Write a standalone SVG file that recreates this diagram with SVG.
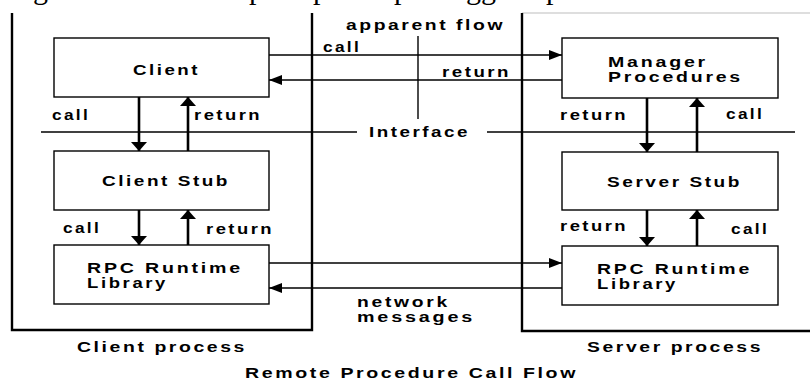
<svg xmlns="http://www.w3.org/2000/svg" width="810" height="381" viewBox="0 0 810 381">
<defs>
<style>
.t{font-family:"Liberation Sans",Arial,sans-serif;font-weight:bold;font-size:15px;fill:#000;letter-spacing:2px}
.t2{font-size:14px}
.frag{font-family:"Liberation Serif","Times New Roman",serif;font-size:30px;fill:#000}
.box{fill:#fff;stroke:#000;stroke-width:1.4}
.frame{fill:none;stroke:#000;stroke-width:2.4}
.thin{fill:none;stroke:#000;stroke-width:1.4}
.thick{fill:none;stroke:#000;stroke-width:2.6}
</style>
<marker id="ah" markerUnits="userSpaceOnUse" markerWidth="14" markerHeight="11" refX="13" refY="5" orient="auto">
<path d="M0,0 L13,5 L0,10 z" fill="#000"/>
</marker>
<marker id="av" markerUnits="userSpaceOnUse" markerWidth="10" markerHeight="17" refX="9" refY="8" orient="auto">
<path d="M0,0 L9,8 L0,16 z" fill="#000"/>
</marker>
</defs>
<rect width="810" height="381" fill="#fff"/>
<g id="page-fragment">
<text class="frag" x="33" y="-1.5">g</text>
<text class="frag" x="249" y="-1.5">p</text>
<text class="frag" x="313" y="-1.5">p</text>
<text class="frag" x="394" y="-1.5">p</text>
<text class="frag" x="466" y="-1.5">gg</text>
<text class="frag" x="546" y="-1.5">p</text>
</g>
<g id="client-process">
<path class="frame" d="M12,13 V330 H312 V13"/>
<text class="t" x="77" y="352" textLength="170" lengthAdjust="spacingAndGlyphs">Client process</text>
</g>
<g id="server-process">
<line x1="522" y1="13" x2="810" y2="13" stroke="#bdbdbd" stroke-width="1.2"/>
<path class="frame" d="M522,13 V331 H810"/>
<text class="t" x="587" y="352" textLength="176" lengthAdjust="spacingAndGlyphs">Server process</text>
</g>
<g id="connectors">
<line class="thin" x1="41" y1="132" x2="357" y2="132"/>
<line class="thin" x1="487" y1="132" x2="795" y2="132"/>
<line class="thin" x1="418" y1="36" x2="418" y2="119"/>
<line class="thin" x1="269" y1="55" x2="562" y2="55" marker-end="url(#ah)"/>
<line class="thin" x1="562" y1="80" x2="269" y2="80" marker-end="url(#ah)"/>
<line class="thin" x1="269" y1="263" x2="562" y2="263" marker-end="url(#ah)"/>
<line class="thin" x1="562" y1="288" x2="269" y2="288" marker-end="url(#ah)"/>
<line class="thick" x1="139" y1="97" x2="139" y2="151" marker-end="url(#av)"/>
<line class="thick" x1="188" y1="151" x2="188" y2="97" marker-end="url(#av)"/>
<line class="thick" x1="139" y1="210" x2="139" y2="245" marker-end="url(#av)"/>
<line class="thick" x1="188" y1="245" x2="188" y2="210" marker-end="url(#av)"/>
<line class="thick" x1="647" y1="98" x2="647" y2="152" marker-end="url(#av)"/>
<line class="thick" x1="697" y1="152" x2="697" y2="98" marker-end="url(#av)"/>
<line class="thick" x1="647" y1="210" x2="647" y2="246" marker-end="url(#av)"/>
<line class="thick" x1="697" y1="246" x2="697" y2="210" marker-end="url(#av)"/>
<text class="t" x="346" y="30" textLength="159" lengthAdjust="spacingAndGlyphs">apparent flow</text>
<text class="t" x="323" y="52" textLength="38" lengthAdjust="spacingAndGlyphs">call</text>
<text class="t" x="442" y="77" textLength="69" lengthAdjust="spacingAndGlyphs">return</text>
<text class="t" x="369" y="137" textLength="101" lengthAdjust="spacingAndGlyphs">Interface</text>
<text class="t" x="52" y="120" textLength="38" lengthAdjust="spacingAndGlyphs">call</text>
<text class="t" x="194" y="120" textLength="68" lengthAdjust="spacingAndGlyphs">return</text>
<text class="t" x="63" y="233" textLength="38" lengthAdjust="spacingAndGlyphs">call</text>
<text class="t" x="206" y="234" textLength="68" lengthAdjust="spacingAndGlyphs">return</text>
<text class="t" x="560" y="120" textLength="68" lengthAdjust="spacingAndGlyphs">return</text>
<text class="t" x="726" y="119" textLength="38" lengthAdjust="spacingAndGlyphs">call</text>
<text class="t" x="560" y="231" textLength="68" lengthAdjust="spacingAndGlyphs">return</text>
<text class="t" x="731" y="234" textLength="38" lengthAdjust="spacingAndGlyphs">call</text>
<text class="t t2" x="357" y="307" textLength="93" lengthAdjust="spacingAndGlyphs">network</text>
<text class="t t2" x="357" y="322" textLength="118" lengthAdjust="spacingAndGlyphs">messages</text>
</g>
<g id="client">
<rect class="box" x="54" y="38" width="215" height="59"/>
<text class="t" x="133" y="75" textLength="67" lengthAdjust="spacingAndGlyphs">Client</text>
</g>
<g id="client-stub">
<rect class="box" x="54" y="151" width="215" height="59"/>
<text class="t" x="102" y="186" textLength="128" lengthAdjust="spacingAndGlyphs">Client Stub</text>
</g>
<g id="client-rpc-runtime">
<rect class="box" x="54" y="245" width="215" height="59"/>
<text class="t t2" x="87" y="272.5" textLength="156" lengthAdjust="spacingAndGlyphs">RPC Runtime</text>
<text class="t t2" x="87" y="287.5" textLength="81" lengthAdjust="spacingAndGlyphs">Library</text>
</g>
<g id="manager-procedures">
<rect class="box" x="562" y="38" width="216" height="60"/>
<text class="t t2" x="608" y="67" textLength="100" lengthAdjust="spacingAndGlyphs">Manager</text>
<text class="t t2" x="608" y="82" textLength="135" lengthAdjust="spacingAndGlyphs">Procedures</text>
</g>
<g id="server-stub">
<rect class="box" x="562" y="152" width="216" height="58"/>
<text class="t" x="607" y="187" textLength="135" lengthAdjust="spacingAndGlyphs">Server Stub</text>
</g>
<g id="server-rpc-runtime">
<rect class="box" x="562" y="246" width="216" height="59"/>
<text class="t t2" x="597" y="273.5" textLength="155" lengthAdjust="spacingAndGlyphs">RPC Runtime</text>
<text class="t t2" x="597" y="288.5" textLength="81" lengthAdjust="spacingAndGlyphs">Library</text>
</g>
<g id="caption">
<text class="t" x="245" y="378" textLength="333" lengthAdjust="spacingAndGlyphs">Remote Procedure Call Flow</text>
</g>
</svg>
